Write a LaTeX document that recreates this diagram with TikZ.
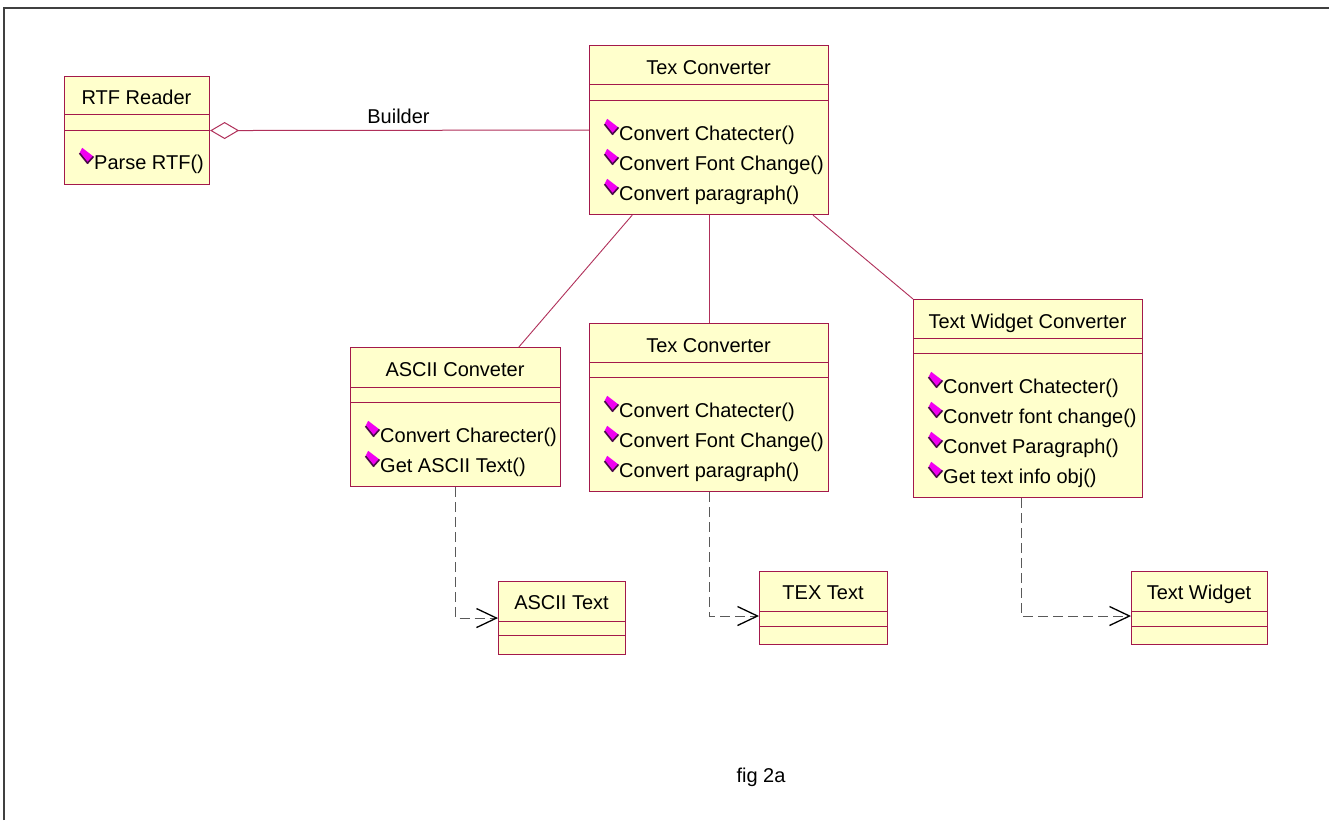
\documentclass[tikz,border=0pt]{standalone}
\usepackage{fontspec}
\setmainfont{Liberation Sans}
\usetikzlibrary{arrows.meta,calc}

\definecolor{classfill}{HTML}{FFFFCC}
\definecolor{classline}{HTML}{A3194B}
\definecolor{linkline}{HTML}{B0305A}
\definecolor{opmag}{HTML}{F000F0}
\definecolor{opdark}{HTML}{4A0A4A}
\definecolor{framegray}{HTML}{404040}

\tikzset{
  x=1pt, y=-1pt,
  classbox/.style={draw=classline, fill=classfill, line width=1.1pt, rectangle,
    inner sep=0pt, anchor=north west},
  divider/.style={draw=classline, line width=1pt},
  title/.style={anchor=base, inner sep=0pt, font=\fontsize{20}{24}\selectfont},
  op/.style={anchor=base west, inner sep=0pt, font=\fontsize{20}{24}\selectfont},
  label/.style={anchor=base, inner sep=0pt, font=\fontsize{20}{24}\selectfont},
  assoc/.style={draw=linkline, line width=0.9pt},
  dep/.style={draw=black!65, line width=1pt, dash pattern=on 10pt off 5pt,
    -{Straight Barb[length=20pt,width=19pt,line width=1.3pt,black]}},
  opicon/.pic={
    \fill[opmag] (-4.3,-7.7) -- (7,1) -- (1,7.7) -- (-7,-2.3) -- cycle;
    \draw[opdark, line width=1.6pt, line join=round] (-7,-2.3) -- (1,7.7) -- (7,1);
  }
}

% a class: name, x, y, width, height, offset of first and second divider
\newcommand\umlclass[6]{%
  \node[classbox, minimum width=#4pt, minimum height=#5pt] (#1) at (#2,#3) {};
  \draw[divider] ($(#1.north west)+(0,#6)$) -- ($(#1.north east)+(0,#6)$);
}
\newcommand\umlsecond[2]{%
  \draw[divider] ($(#1.north west)+(0,#2)$) -- ($(#1.north east)+(0,#2)$);
}
% an operation row: node name, box x, baseline y, text
\newcommand\umlop[4]{%
  \pic at ($(#2,#3)+(22.5,-13.5)$) {opicon};
  \node[op] (#1) at ($(#2,#3)+(30,0)$) {#4};
}

\begin{document}
\begin{tikzpicture}
\useasboundingbox (0,0) rectangle (1329,820);
\fill[white] (0,0) rectangle (1329,820);

% frame
\draw[framegray, line width=2pt] (4,820) -- (4,8) -- (1329,8);

% RTF Reader
\umlclass{rtf}{64}{76}{145}{108}{38}
\umlsecond{rtf}{54}
\node[title] (rtf-t) at (136.5,104) {RTF Reader};
\umlop{rtf-m1}{64}{169}{Parse RTF()}

% Tex Converter (builder)
\umlclass{tc}{589}{45}{239}{169}{39}
\umlsecond{tc}{55}
\node[title] (tc-t) at (708.5,74) {Tex Converter};
\umlop{tc-m1}{589}{140}{Convert Chatecter()}
\umlop{tc-m2}{589}{170}{Convert Font Change()}
\umlop{tc-m3}{589}{200}{Convert paragraph()}

% ASCII Conveter
\umlclass{ac}{350}{347}{210}{139}{40}
\umlsecond{ac}{55}
\node[title] (ac-t) at (455,376) {ASCII Conveter};
\umlop{ac-m1}{350}{442}{Convert Charecter()}
\umlop{ac-m2}{350}{472}{Get ASCII Text()}

% Tex Converter (concrete)
\umlclass{mtc}{589}{323}{239}{168}{39}
\umlsecond{mtc}{54}
\node[title] (mtc-t) at (708.5,352) {Tex Converter};
\umlop{mtc-m1}{589}{417}{Convert Chatecter()}
\umlop{mtc-m2}{589}{447}{Convert Font Change()}
\umlop{mtc-m3}{589}{477}{Convert paragraph()}

% Text Widget Converter
\umlclass{twc}{913}{299}{229}{198}{39}
\umlsecond{twc}{54}
\node[title] (twc-t) at (1027.5,328) {Text Widget Converter};
\umlop{twc-m1}{913}{393}{Convert Chatecter()}
\umlop{twc-m2}{913}{423}{Convetr font change()}
\umlop{twc-m3}{913}{453}{Convet Paragraph()}
\umlop{twc-m4}{913}{483}{Get text info obj()}

% products
\umlclass{at}{498}{581}{127}{73}{40}
\umlsecond{at}{54}
\node[title] (at-t) at (561.5,609) {ASCII Text};

\umlclass{tt}{759}{571}{128}{73}{40}
\umlsecond{tt}{55}
\node[title] (tt-t) at (823,599) {TEX Text};

\umlclass{tw}{1131}{571}{136}{73}{40}
\umlsecond{tw}{55}
\node[title] (tw-t) at (1199,599) {Text Widget};

% aggregation
\draw[assoc, line width=1pt, {Diamond[open,length=29pt,width=17pt,fill=white]}-]
  (rtf.east) -- (tc.west);
\node[label] (builder) at (398.5,123) {Builder};

% generalisation links
\draw[assoc] ($(tc.south west)!0.18!(tc.south east)$) -- ($(ac.north west)!0.8!(ac.north east)$);
\draw[assoc] (tc.south) -- (mtc.north);
\draw[assoc] ($(tc.south west)!0.933!(tc.south east)$) -- (twc.north west);

% creates
\draw[dep] (ac.south) |- (at.west);
\draw[dep] (mtc.south) |- ($(tt.north west)+(0,45)$);
\draw[dep] ($(twc.south west)!0.47!(twc.south east)$) |- ($(tw.north west)+(0,45)$);

\node[label] (caption) at (761,782) {fig 2a};
\end{tikzpicture}
\end{document}
